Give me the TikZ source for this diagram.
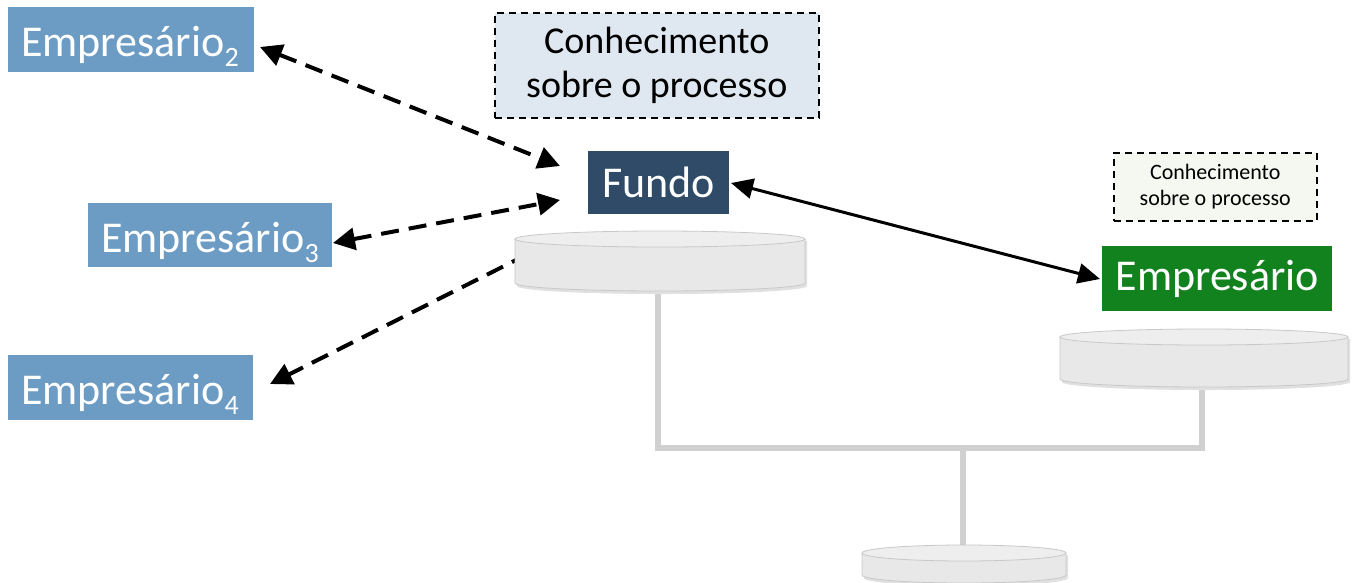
\documentclass[tikz,border=0pt]{standalone}
\usepackage{fontspec}
\setmainfont{Carlito}
\usetikzlibrary{arrows.meta}
\definecolor{empblue}{RGB}{108,155,196}
\definecolor{fundoblue}{RGB}{47,75,104}
\definecolor{empgreen}{RGB}{18,130,30}
\definecolor{knowblue}{RGB}{223,232,241}
\definecolor{knowgreen}{RGB}{244,248,241}
\definecolor{diskfill}{RGB}{232,232,232}
\definecolor{disktop}{RGB}{238,238,238}
\definecolor{diskedge}{RGB}{200,200,200}
\definecolor{treeline}{RGB}{208,208,208}
\newcommand{\bigtxt}{\fontsize{44}{50}\selectfont}
\newcommand{\midtxt}{\fontsize{38}{44}\selectfont}
\newcommand{\smalltxt}{\fontsize{22}{26}\selectfont}
\newcommand{\subnum}[1]{\raisebox{-10pt}{\fontsize{28}{28}\selectfont #1}}
\tikzset{
  actor/.style={text=white, inner sep=0pt, anchor=north west},
  know/.style={draw=black, dashed, line width=1.5pt, dash pattern=on 7pt off 5pt, align=center, inner sep=0pt, anchor=north west},
  dasharrow/.style={line width=4pt, dash pattern=on 18pt off 10pt, -{Triangle[length=22pt,width=22pt]}},
  dasharrows/.style={line width=4pt, dash pattern=on 18pt off 10pt, {Triangle[length=22pt,width=22pt]}-{Triangle[length=22pt,width=22pt]}},
  solidarrows/.style={line width=3pt, {Triangle[length=22pt,width=20pt]}-{Triangle[length=22pt,width=20pt]}},
  tree/.style={treeline, line width=6pt},
}
% disk: center x, top y, half width, height
\newcommand{\drawdisk}[4]{%
  \fill[black!12] (#1-#3+2, #2+2) -- (#1-#3+2, #2+#4+3) arc[start angle=180, end angle=360, x radius=#3, y radius=-8] -- (#1+#3+2, #2+2) -- cycle;
  \fill[diskfill, draw=diskedge, line width=0.8pt] (#1-#3, #2) -- (#1-#3, #2+#4) arc[start angle=180, end angle=360, x radius=#3, y radius=-8] -- (#1+#3, #2) -- cycle;
  \fill[disktop, draw=diskedge, line width=0.8pt] (#1, #2) ellipse[x radius=#3, y radius=8];
}
\begin{document}
\begin{tikzpicture}[x=1pt, y=-1pt]
\useasboundingbox[fill=white] (0,0) rectangle (1357,582);

% tree connectors
\coordinate (d1b) at (658,287);
\coordinate (d2b) at (1202,384);
\coordinate (d3t) at (963,548);
\coordinate (j1) at (658,448);
\coordinate (j2) at (1202,448);
\coordinate (j3) at (963,448);
\draw[tree] (d1b) -- (j1) -- (j2) -- (d2b);
\draw[tree] (j3) -- (d3t);

\coordinate (e4s) at (528,254);

% actors
\node[actor, fill=empblue, minimum width=246pt, minimum height=65pt] (e2) at (8,7) {};
\node[text=white, anchor=base west, inner sep=0pt] (e2t) at (21,56) {\bigtxt Empresário\subnum{2}};
\node[actor, fill=empblue, minimum width=244pt, minimum height=64pt] (e3) at (88,203) {};
\node[text=white, anchor=base west, inner sep=0pt] (e3t) at (101,252) {\bigtxt Empresário\subnum{3}};
\node[actor, fill=empblue, minimum width=245pt, minimum height=65pt] (e4) at (8,355) {};
\node[text=white, anchor=base west, inner sep=0pt] (e4t) at (21,404) {\bigtxt Empresário\subnum{4}};

\node[actor, fill=fundoblue, minimum width=141pt, minimum height=63pt] (fundo) at (588,151) {};
\node[text=white, inner sep=0pt] (fundot) at (fundo.center) {\bigtxt Fundo};
\node[actor, fill=empgreen, minimum width=230pt, minimum height=65pt] (emp) at (1102,246) {};
\node[text=white, inner sep=0pt] (empt) at (emp.center) {\bigtxt Empresário};

% knowledge boxes
\node[know, fill=knowblue, minimum width=324pt, minimum height=105pt] (k1) at (494,12) {};
\node[align=center, inner sep=0pt, font=\midtxt] (k1t) at (k1.center) {Conhecimento\\sobre o processo};
\node[know, fill=knowgreen, minimum width=203pt, minimum height=68pt] (k2) at (1113,152) {};
\node[align=center, inner sep=0pt, font=\smalltxt] (k2t) at (k2.center) {Conhecimento\\sobre o processo};

% arrows
\coordinate (f2) at (560,166);
\coordinate (f3) at (560,200);
\coordinate (a2) at (260,47);
\coordinate (a3) at (333,243);
\coordinate (a4) at (270,384);
\coordinate (fr) at (731,183);
\coordinate (el) at (1100,279);
\draw[dasharrows] (a2) -- (f2);
\draw[dasharrows] (a3) -- (f3);
\draw[dasharrow] (e4s) -- (a4);
\draw[solidarrows] (fr) -- (el);

% disks
\drawdisk{660}{239}{145}{44}
\drawdisk{1204}{337}{144}{42}
\drawdisk{964}{553}{102}{22}

\end{tikzpicture}
\end{document}
